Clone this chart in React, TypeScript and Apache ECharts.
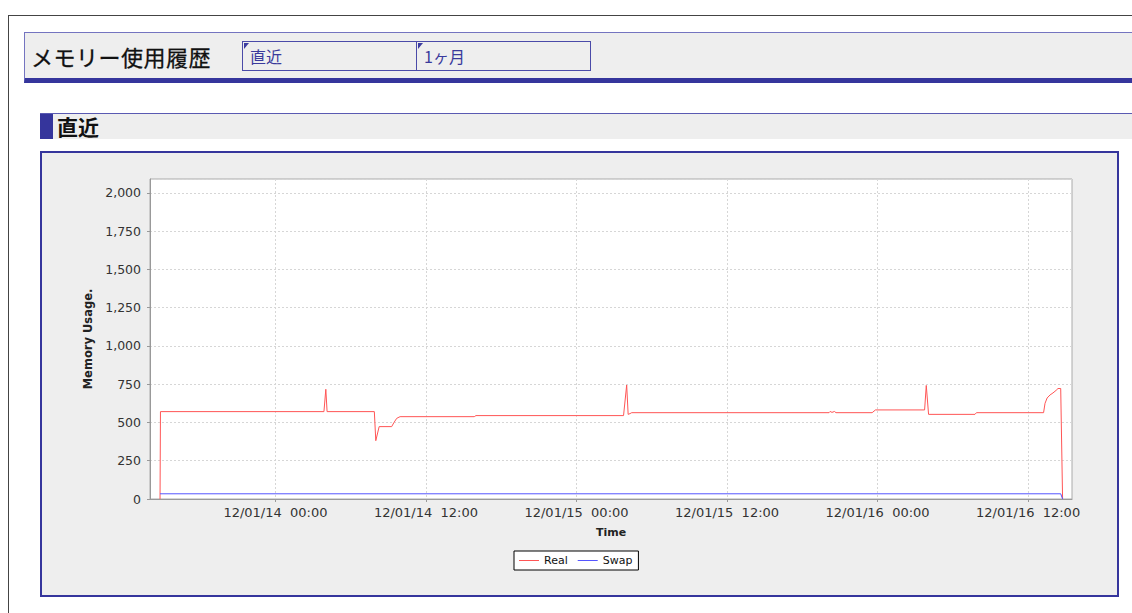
import React, { useEffect, useRef } from "react";
import * as echarts from "echarts";

// ---- data ----
const PAGE_TITLE = "メモリー使用履歴";
const TABS = ["直近", "1ヶ月"];
const SECTION_TITLE = "直近";
const SERIES_NAMES = ["Real", "Swap"];
const Y_AXIS_NAME = "Memory Usage.";
const X_AXIS_NAME = "Time";

const REAL_TIMES = [
  "2012-01-13 14:48", "2012-01-13 14:50", "2012-01-14 03:52", "2012-01-14 04:01", "2012-01-14 04:07",
  "2012-01-14 07:53", "2012-01-14 08:00", "2012-01-14 08:16", "2012-01-14 09:16", "2012-01-14 09:27",
  "2012-01-14 09:40", "2012-01-14 09:56", "2012-01-14 15:51", "2012-01-14 15:59", "2012-01-15 03:45",
  "2012-01-15 04:00", "2012-01-15 04:07", "2012-01-15 04:16", "2012-01-15 04:24", "2012-01-15 20:08",
  "2012-01-15 20:13", "2012-01-15 20:22", "2012-01-15 20:34", "2012-01-15 20:41", "2012-01-15 23:34",
  "2012-01-15 23:50", "2012-01-16 03:45", "2012-01-16 03:53", "2012-01-16 04:04", "2012-01-16 07:46",
  "2012-01-16 07:53", "2012-01-16 13:14", "2012-01-16 13:21", "2012-01-16 13:31", "2012-01-16 13:45",
  "2012-01-16 13:59", "2012-01-16 14:14", "2012-01-16 14:23", "2012-01-16 14:36", "2012-01-16 14:45",
];
const REAL_VALUES = [
  0, 571, 571, 717, 571,
  571, 381, 473, 473, 500,
  527, 538, 538, 545, 545,
  745, 553, 558, 564, 564,
  572, 566, 572, 564, 564,
  582, 582, 742, 553, 553,
  564, 564, 625, 660, 680,
  693, 710, 722, 722, 0,
];

const SWAP_TIMES = ["2012-01-13 14:48", "2012-01-16 14:36", "2012-01-16 14:45"];
const SWAP_VALUES = [34, 34, 0];

const X_TICKS = [
  "2012-01-14 00:00", "2012-01-14 12:00", "2012-01-15 00:00",
  "2012-01-15 12:00", "2012-01-16 00:00", "2012-01-16 12:00",
];
const X_MIN = "2012-01-13 14:00";
const X_MAX = "2012-01-16 15:30";
const Y_MIN = 0;
const Y_MAX = 2091;
const Y_STEP = 250;

function toTime(s: string): number {
  const [d, t] = s.split(" ");
  const [y, m, dd] = d.split("-").map(Number);
  const [hh, mi] = t.split(":").map(Number);
  return new Date(y, m - 1, dd, hh, mi).getTime();
}
const pad = (n: number) => String(n).padStart(2, "0");

const FONT = "DejaVu Sans";
const JP = "'Noto Sans CJK JP', sans-serif";

function Chart() {
  const ref = useRef<HTMLDivElement>(null);
  useEffect(() => {
    if (!ref.current) return;
    const chart = echarts.init(ref.current, undefined, { renderer: "svg" });
    const real = REAL_TIMES.map((t, i) => [toTime(t), REAL_VALUES[i]]);
    const swap = SWAP_TIMES.map((t, i) => [toTime(t), SWAP_VALUES[i]]);
    const xTicks = X_TICKS.map(toTime);
    chart.setOption({
      animation: false,
      textStyle: { fontFamily: FONT },
      grid: {
        left: 150,
        top: 179,
        width: 922,
        height: 320,
        show: true,
        backgroundColor: "#ffffff",
        borderColor: "#aaaaaa",
        borderWidth: 1,
      },
      legend: {
        data: SERIES_NAMES,
        left: 514,
        top: 551,
        orient: "horizontal",
        padding: [4, 6, 4, 5],
        itemGap: 10,
        itemWidth: 20,
        itemHeight: 1,
        icon: "rect",
        borderColor: "#000",
        borderWidth: 1,
        backgroundColor: "#fff",
        textStyle: { fontSize: 11, color: "#111", fontFamily: FONT },
      },
      xAxis: {
        type: "value",
        min: toTime(X_MIN),
        max: toTime(X_MAX),
        name: X_AXIS_NAME,
        nameLocation: "middle",
        nameGap: 28,
        nameTextStyle: { fontSize: 11, fontWeight: "bold", color: "#222", fontFamily: FONT },
        axisLine: { show: true, onZero: false, lineStyle: { color: "#999", width: 1 } },
        axisTick: { show: true, length: 3, customValues: xTicks, lineStyle: { color: "#999" } },
        axisLabel: {
          fontSize: 13,
          color: "#333",
          fontFamily: FONT,
          margin: 7,
          hideOverlap: false,
          showMinLabel: true,
          showMaxLabel: true,
          customValues: xTicks,
          formatter: (v: number) => {
            const d = new Date(v);
            return `${pad(d.getFullYear() % 100)}/${pad(d.getMonth() + 1)}/${pad(d.getDate())}\u00a0 ${pad(d.getHours())}:${pad(d.getMinutes())}`;
          },
        },
        splitLine: { show: true, lineStyle: { color: "#d6d6d6", type: [2, 2], width: 1 } },
      },
      yAxis: {
        type: "value",
        min: Y_MIN,
        max: Y_MAX,
        interval: Y_STEP,
        name: Y_AXIS_NAME,
        nameLocation: "middle",
        nameGap: 50,
        nameTextStyle: { fontSize: 11.5, fontWeight: "bold", color: "#222", fontFamily: FONT },
        axisLine: { show: true, lineStyle: { color: "#999", width: 1 } },
        axisTick: { show: true, length: 3, lineStyle: { color: "#999" } },
        axisLabel: {
          fontSize: 12.5,
          color: "#333",
          fontFamily: FONT,
          margin: 9,
          showMaxLabel: false,
          formatter: (v: number) => (v % Y_STEP === 0 ? v.toLocaleString("en-US") : ""),
        },
        splitLine: { show: true, lineStyle: { color: "#d6d6d6", type: [2, 2], width: 1 } },
      },
      series: [
        {
          name: SERIES_NAMES[0],
          type: "line",
          data: real,
          showSymbol: false,
          symbol: "none",
          color: "#ff5555",
          lineStyle: { color: "#ff5555", width: 1 },
        },
        {
          name: SERIES_NAMES[1],
          type: "line",
          data: swap,
          showSymbol: false,
          symbol: "none",
          color: "#5555ff",
          lineStyle: { color: "#5555ff", width: 1 },
        },
      ],
    });
    return () => chart.dispose();
  }, []);
  return (
    <div
      ref={ref}
      style={{ position: "absolute", left: 0, top: 0, width: 1132, height: 613, zIndex: 2 }}
    />
  );
}

const abs = (s: React.CSSProperties): React.CSSProperties => ({ position: "absolute", boxSizing: "border-box", ...s });

function Triangle({ left, top }: { left: number; top: number }) {
  return (
    <div
      style={abs({
        left,
        top,
        width: 0,
        height: 0,
        borderTop: "6px solid #3b3ba0",
        borderRight: "5px solid transparent",
      })}
    />
  );
}

export default function App() {
  return (
    <div style={abs({ left: 0, top: 0, width: 1132, height: 613, overflow: "hidden", background: "#fff" })}>
      {/* outer frame */}
      <div style={abs({ left: 8, top: 15, width: 1130, height: 610, borderTop: "1px solid #444", borderLeft: "1px solid #444" })} />
      {/* page header */}
      <div
        style={abs({
          left: 24,
          top: 32,
          width: 1112,
          height: 51,
          background: "#eeeeee",
          borderTop: "1px solid #7474c0",
          borderLeft: "1px solid #7474c0",
          borderBottom: "5px solid #35359c",
        })}
      />
      <div
        style={abs({
          left: 31,
          top: 45,
          height: 23,
          lineHeight: "23px",
          fontSize: 22,
          letterSpacing: 0.5,
          fontFamily: JP,
          color: "#111",
          whiteSpace: "nowrap",
          WebkitTextStroke: "0.3px #111",
        })}
      >
        {PAGE_TITLE}
      </div>
      {/* tabs */}
      {TABS.map((t, i) => (
        <React.Fragment key={t}>
          <div
            style={abs({
              left: 242 + i * 174,
              top: 41,
              width: 175,
              height: 30,
              border: "1px solid #4a4aa8",
              background: "#eeeeee",
            })}
          />
          <Triangle left={244 + i * 174} top={43} />
          <div
            style={abs({
              left: 250 + i * 174,
              top: 47,
              height: 18,
              lineHeight: "18px",
              fontSize: 16,
              fontFamily: JP,
              color: "#3a3a9c",
              whiteSpace: "nowrap",
            })}
          >
            {t}
          </div>
        </React.Fragment>
      ))}
      {/* section header */}
      <div style={abs({ left: 40, top: 113, width: 1100, height: 26, background: "#eeeeee", borderTop: "1px solid #5a5ab2" })} />
      <div style={abs({ left: 40, top: 114, width: 13, height: 25, background: "#35359c" })} />
      <div
        style={abs({
          left: 57,
          top: 115,
          height: 23,
          lineHeight: "23px",
          fontSize: 21,
          fontWeight: "bold",
          fontFamily: JP,
          color: "#111",
          whiteSpace: "nowrap",
        })}
      >
        {SECTION_TITLE}
      </div>
      {/* chart panel */}
      <div style={abs({ left: 40, top: 151, width: 1079, height: 446, border: "2px solid #35359c", background: "#eeeeee" })} />
      <Chart />
    </div>
  );
}
